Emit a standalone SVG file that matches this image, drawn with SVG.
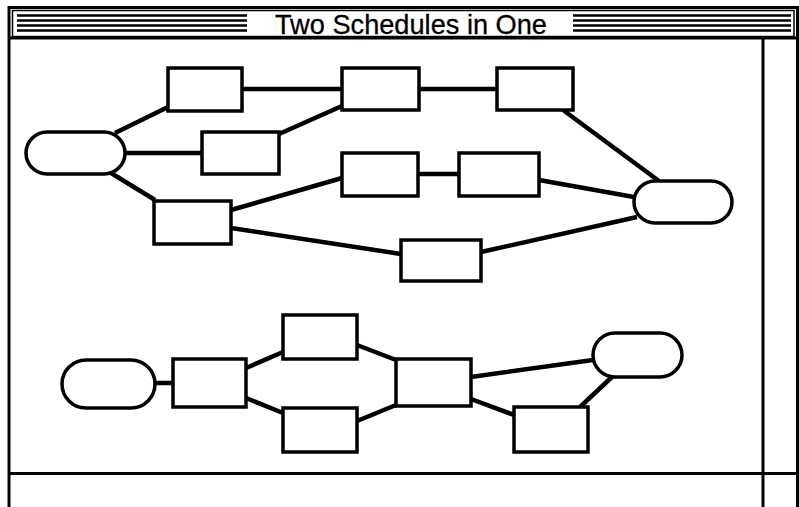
<svg xmlns="http://www.w3.org/2000/svg" width="799" height="507" viewBox="0 0 799 507">
<style>
.frame{fill:none;stroke:#000;stroke-width:3}
.thin{fill:none;stroke:#000;stroke-width:1.5}
.stripe{stroke:#000;stroke-width:2.5}
.box{fill:#fff;stroke:#000;stroke-width:3.5}
.term{fill:#fff;stroke:#000;stroke-width:3.5}
.edge{stroke:#000;stroke-width:4.5;stroke-linecap:butt;fill:none}
.title{font-family:"Liberation Sans",Arial,sans-serif;font-size:28px;fill:#000;stroke:#000;stroke-width:0.3}
</style>
<rect width="799" height="507" fill="#fff"/>
<g id="window">
  <path class="frame" d="M9,507 V7.5 H797.5 V507"/>
  <rect class="thin" x="12.5" y="10.5" width="781.5" height="26"/>
  <line class="frame" x1="9" y1="38" x2="798" y2="38"/>
  <g class="stripe">
    <line x1="17" y1="15.5" x2="247" y2="15.5"/>
    <line x1="17" y1="20.5" x2="247" y2="20.5"/>
    <line x1="17" y1="25.5" x2="247" y2="25.5"/>
    <line x1="17" y1="30.5" x2="247" y2="30.5"/>
    <line x1="573" y1="15.5" x2="791" y2="15.5"/>
    <line x1="573" y1="20.5" x2="791" y2="20.5"/>
    <line x1="573" y1="25.5" x2="791" y2="25.5"/>
    <line x1="573" y1="30.5" x2="791" y2="30.5"/>
  </g>
  <text class="title" x="275" y="34" textLength="272" lengthAdjust="spacingAndGlyphs">Two Schedules in One</text>
  <line class="frame" x1="763" y1="38" x2="763" y2="507"/>
  <line class="frame" x1="9" y1="473.5" x2="798" y2="473.5"/>
</g>
<g id="connectors">
  <line class="edge" x1="115" y1="133" x2="168" y2="107"/>
  <line class="edge" x1="125" y1="153" x2="202" y2="153"/>
  <line class="edge" x1="111" y1="173" x2="155" y2="200"/>
  <line class="edge" x1="242" y1="89" x2="342" y2="89"/>
  <line class="edge" x1="419" y1="89" x2="497" y2="89"/>
  <line class="edge" x1="279" y1="134" x2="342" y2="106"/>
  <line class="edge" x1="231" y1="210" x2="342" y2="178"/>
  <line class="edge" x1="231" y1="228" x2="401" y2="254"/>
  <line class="edge" x1="418" y1="174" x2="459" y2="174"/>
  <line class="edge" x1="563" y1="110" x2="659" y2="181"/>
  <line class="edge" x1="539" y1="180" x2="634" y2="197"/>
  <line class="edge" x1="481" y1="252" x2="637" y2="217"/>
  <line class="edge" x1="155" y1="383" x2="173" y2="383"/>
  <line class="edge" x1="246" y1="368" x2="283" y2="352"/>
  <line class="edge" x1="246" y1="398" x2="283" y2="413"/>
  <line class="edge" x1="357" y1="345" x2="396" y2="360"/>
  <line class="edge" x1="357" y1="421" x2="396" y2="405"/>
  <line class="edge" x1="471" y1="377" x2="593" y2="360"/>
  <line class="edge" x1="471" y1="399" x2="514" y2="415"/>
  <line class="edge" x1="580" y1="407" x2="613" y2="376"/>
</g>
<g id="start1"><rect class="term" x="26" y="132" width="99" height="42" rx="21"/></g>
<g id="a1"><rect class="box" x="168" y="68" width="74" height="43"/></g>
<g id="a2"><rect class="box" x="202" y="132" width="77" height="42"/></g>
<g id="a3"><rect class="box" x="154" y="201" width="77" height="43"/></g>
<g id="a4"><rect class="box" x="342" y="68" width="77" height="42"/></g>
<g id="a5"><rect class="box" x="497" y="68" width="76" height="42"/></g>
<g id="a6"><rect class="box" x="342" y="153" width="76" height="43"/></g>
<g id="a7"><rect class="box" x="459" y="153" width="80" height="43"/></g>
<g id="a8"><rect class="box" x="401" y="240" width="80" height="41"/></g>
<g id="end1"><rect class="term" x="634" y="181" width="98" height="42" rx="21"/></g>
<g id="start2"><rect class="term" x="62" y="360" width="93" height="48" rx="24"/></g>
<g id="b1"><rect class="box" x="173" y="359" width="73" height="48"/></g>
<g id="b2"><rect class="box" x="283" y="315" width="74" height="44"/></g>
<g id="b3"><rect class="box" x="283" y="408" width="74" height="44"/></g>
<g id="b4"><rect class="box" x="396" y="359" width="75" height="47"/></g>
<g id="b5"><rect class="box" x="514" y="407" width="74" height="45"/></g>
<g id="end2"><rect class="term" x="593" y="333" width="89" height="44" rx="22"/></g>
</svg>
